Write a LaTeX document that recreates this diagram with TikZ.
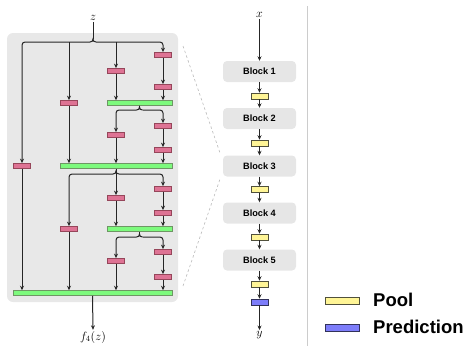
\documentclass[tikz,border=0pt]{standalone}
\usepackage{fontspec}
\newfontfamily\sfb{Liberation Sans}
\usetikzlibrary{arrows.meta,calc}
\definecolor{pinkf}{RGB}{222,115,148}
\definecolor{pinkd}{RGB}{150,70,90}
\definecolor{greenf}{RGB}{125,250,125}
\definecolor{greend}{RGB}{110,150,100}
\definecolor{yellowf}{RGB}{255,245,150}
\definecolor{yellowd}{RGB}{80,80,60}
\definecolor{bluef}{RGB}{125,125,250}
\definecolor{blued}{RGB}{50,50,90}
\definecolor{bgg}{RGB}{232,232,232}
\definecolor{blk}{RGB}{230,230,230}
\tikzset{
  pinkbox/.style={draw=pinkd,fill=pinkf,line width=0.5pt,minimum width=17pt,minimum height=5.3pt,inner sep=0pt},
  greenbar/.style={draw=greend,fill=greenf,line width=0.5pt,minimum height=5pt,inner sep=0pt},
  poolbox/.style={draw=yellowd,fill=yellowf,line width=0.5pt,minimum width=17pt,minimum height=6pt,inner sep=0pt},
  predbox/.style={draw=blued,fill=bluef,line width=0.5pt,minimum width=17pt,minimum height=6pt,inner sep=0pt},
  blockbox/.style={fill=blk,rounded corners=4pt,minimum width=73pt,minimum height=21pt,inner sep=0pt,font=\sfb\bfseries\fontsize{9.2}{10}\selectfont},
  bgbox/.style={fill=bgg,rounded corners=6pt,minimum width=171pt,minimum height=269pt,inner sep=0pt},
  ln/.style={line width=1pt,black!85},
  arr/.style={ln,-{Stealth[length=4.5pt,width=4pt]}},
  br/.style={ln,rounded corners=3pt},
  brarr/.style={arr,rounded corners=3pt},
  mlabel/.style={inner sep=1pt,font=\fontsize{11.5}{13}\selectfont},
  legtext/.style={anchor=west,inner sep=0pt,font=\sfb\bfseries\fontsize{18.5}{20}\selectfont},
  dashln/.style={gray!55,line width=0.6pt,dash pattern=on 2.5pt off 2.5pt},
}
\newcommand\bracetip[1]{\draw[ln] ($(#1)+(-3,0)$) .. controls ($(#1)+(-1,0)$) and ($(#1)+(0,-1)$) .. ($(#1)+(0,-3)$) .. controls ($(#1)+(0,-1)$) and ($(#1)+(1,0)$) .. ($(#1)+(3,0)$);}
\begin{document}
\begin{tikzpicture}[x=1pt,y=-1pt]
\useasboundingbox (0,0) rectangle (469,349);
% background
\node[bgbox] (bg) at (92.5,167.5) {};
\draw[gray!40,line width=0.6pt] (307,6) -- (307,346);

% labels
\node[mlabel] (z) at (93,18) {$z$};
\node[mlabel] (fz) at (93,337) {$f_4(z)$};

% green bars
\node[greenbar,minimum width=65pt] (g1) at (139.5,103) {};
\node[greenbar,minimum width=112pt] (g2) at (116,166) {};
\node[greenbar,minimum width=65pt] (g3) at (139.5,229) {};
\node[greenbar,minimum width=159pt] (g4) at (92.5,293) {};

% pink boxes
\node[pinkbox] (p1a) at (22,166) {};
\node[pinkbox] (p2a) at (69,103) {};
\node[pinkbox] (p2b) at (69,229) {};
\node[pinkbox] (p3a) at (116,71) {};
\node[pinkbox] (p3b) at (116,135) {};
\node[pinkbox] (p3c) at (116,198) {};
\node[pinkbox] (p3d) at (116,261) {};
\node[pinkbox] (p4a) at (163,55) {};
\node[pinkbox] (p4b) at (163,87) {};
\node[pinkbox] (p4c) at (163,126) {};
\node[pinkbox] (p4d) at (163,150) {};
\node[pinkbox] (p4e) at (163,189) {};
\node[pinkbox] (p4f) at (163,213) {};
\node[pinkbox] (p4g) at (163,252) {};
\node[pinkbox] (p4h) at (163,277) {};

% distribution 0 (from z)
\coordinate (d0) at (93,42);
\draw[ln] (z.south) -- ($(d0)+(0,-3)$);
\bracetip{d0}
\draw[brarr] ($(d0)+(-3,0)$) -- (d0 -| p1a) -- (p1a.north);
\draw[arr] (d0 -| p2a) -- (p2a.north);
\draw[arr] (d0 -| p3a) -- (p3a.north);
\draw[brarr] ($(d0)+(3,0)$) -- (d0 -| p4a) -- (p4a.north);

% column paths into g1
\draw[arr] (p3a.south) -- (p3a.south |- g1.north);
\draw[arr] (p4a.south) -- (p4b.north);
\draw[arr] (p4b.south) -- (p4b.south |- g1.north);

% distribution 1 (from g1)
\coordinate (d1) at (139.5,110);
\draw[ln] (g1.south) -- ($(d1)+(0,-3)$);
\bracetip{d1}
\draw[brarr] ($(d1)+(-3,0)$) -- (d1 -| p3b) -- (p3b.north);
\draw[brarr] ($(d1)+(3,0)$) -- (d1 -| p4c) -- (p4c.north);
\draw[arr] (p3b.south) -- (p3b.south |- g2.north);
\draw[arr] (p4c.south) -- (p4d.north);
\draw[arr] (p4d.south) -- (p4d.south |- g2.north);
\draw[arr] (p2a.south) -- (p2a.south |- g2.north);

% distribution 2 (from g2)
\coordinate (d2) at (116,174);
\draw[ln] (g2.south) -- ($(d2)+(0,-3)$);
\bracetip{d2}
\draw[brarr] ($(d2)+(-3,0)$) -- (d2 -| p2b) -- (p2b.north);
\draw[arr] ($(d2)+(0,-3)$) -- (p3c.north);
\draw[brarr] ($(d2)+(3,0)$) -- (d2 -| p4e) -- (p4e.north);
\draw[arr] (p3c.south) -- (p3c.south |- g3.north);
\draw[arr] (p4e.south) -- (p4f.north);
\draw[arr] (p4f.south) -- (p4f.south |- g3.north);

% distribution 3 (from g3)
\coordinate (d3) at (139.5,237);
\draw[ln] (g3.south) -- ($(d3)+(0,-3)$);
\bracetip{d3}
\draw[brarr] ($(d3)+(-3,0)$) -- (d3 -| p3d) -- (p3d.north);
\draw[brarr] ($(d3)+(3,0)$) -- (d3 -| p4g) -- (p4g.north);
\draw[arr] (p3d.south) -- (p3d.south |- g4.north);
\draw[arr] (p4g.south) -- (p4h.north);
\draw[arr] (p4h.south) -- (p4h.south |- g4.north);
\draw[arr] (p2b.south) -- (p2b.south |- g4.north);
\draw[arr] (p1a.south) -- (p1a.south |- g4.north);

% output
\draw[arr] (g4.south) -- (fz.north);

% right column
\node[mlabel] (x) at (259.5,15) {$x$};
\node[blockbox] (b1) at (259.5,71.5) {Block 1};
\node[poolbox] (q1) at (259.5,96) {};
\node[blockbox] (b2) at (259.5,118.5) {Block 2};
\node[poolbox] (q2) at (259.5,143) {};
\node[blockbox] (b3) at (259.5,166) {Block 3};
\node[poolbox] (q3) at (259.5,189.5) {};
\node[blockbox] (b4) at (259.5,213) {Block 4};
\node[poolbox] (q4) at (259.5,237) {};
\node[blockbox] (b5) at (259.5,260) {Block 5};
\node[poolbox] (q5) at (259.5,284) {};
\node[predbox] (pr) at (259.5,302) {};
\node[mlabel] (y) at (259.5,335) {$y$};

\draw[arr] (x.south) -- (b1.north);
\draw[arr] (b1.south) -- (q1.north);
\draw[arr] (q1.south) -- (b2.north);
\draw[arr] (b2.south) -- (q2.north);
\draw[arr] (q2.south) -- (b3.north);
\draw[arr] (b3.south) -- (q3.north);
\draw[arr] (q3.south) -- (b4.north);
\draw[arr] (b4.south) -- (q4.north);
\draw[arr] (q4.south) -- (b5.north);
\draw[arr] (b5.south) -- (q5.north);
\draw[arr] (q5.south) -- (pr.north);
\draw[arr] (pr.south) -- (y.north);

% zoom dashes
\coordinate (zt) at (183,46);
\coordinate (zb) at (183,286);
\draw[dashln] (zt) -- ($(b3.north west)+(-3,-3)$);
\draw[dashln] (zb) -- ($(b3.south west)+(-3,3)$);

% legend
\node[poolbox,minimum width=34pt,minimum height=7pt] (lp) at (342,300.5) {};
\node[legtext] (lpt) at (373,299.5) {Pool};
\node[predbox,minimum width=34pt,minimum height=7pt] (lq) at (342,327.5) {};
\node[legtext] (lqt) at (373,327) {Prediction};
\end{tikzpicture}
\end{document}
